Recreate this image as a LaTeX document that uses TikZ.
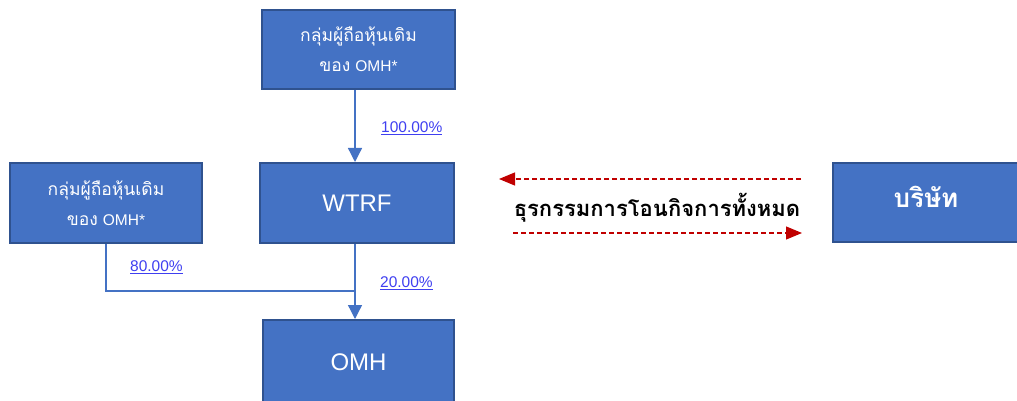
\documentclass[tikz,border=0pt]{standalone}
\usepackage{fontspec}
\setmainfont{Liberation Sans}
\newfontfamily\thai[Script=Thai]{Loma}
\usetikzlibrary{arrows.meta}
\definecolor{boxfill}{HTML}{4472C4}
\definecolor{boxline}{HTML}{2F528F}
\definecolor{linkblue}{HTML}{3F3FF0}
\definecolor{darkred}{HTML}{C00000}
\tikzset{
  entity/.style={draw=boxline, line width=2pt, fill=boxfill, text=white, inner sep=0pt, align=center},
  holder/.style={entity, font=\fontsize{17.5}{30}\selectfont},
  conn/.style={draw=boxfill, line width=1.3pt},
  arr/.style={conn, -{Triangle[length=14pt,width=14pt]}},
  pct/.style={text=linkblue, font=\fontsize{15.5}{18}\selectfont, inner sep=0pt, anchor=west},
  flow/.style={draw=darkred, line width=1.2pt, dash pattern=on 5pt off 3pt},
  flowtip/.style={-{Triangle[length=16pt,width=13pt,fill=darkred]}},
}
\begin{document}
\begin{tikzpicture}[x=1pt,y=-1pt]
\useasboundingbox (0,0) rectangle (1017,401);
% boxes
\node[holder, minimum width=193pt, minimum height=79pt] (top) at (358.5,49.5)
  {\thai กลุ่มผู้ถือหุ้นเดิม\\ {\thai ของ} {\fontsize{15.5}{30}\selectfont OMH*}};
\node[holder, minimum width=192pt, minimum height=80pt] (left) at (106,203)
  {\thai กลุ่มผู้ถือหุ้นเดิม\\ {\thai ของ} {\fontsize{15.5}{30}\selectfont OMH*}};
\node[entity, minimum width=194pt, minimum height=80pt, font=\fontsize{24}{26}\selectfont] (wtrf) at (357,203) {WTRF};
\node[entity, minimum width=191pt, minimum height=84pt, font=\fontsize{24}{26}\selectfont] (omh) at (358.5,362) {OMH};
\node[entity, minimum width=200pt, minimum height=79pt, anchor=west] (co) at (832,202.5) {};
\node[text=white, font=\fontsize{26}{28}\selectfont\bfseries\thai] (cotext) at (926,197) {บริษัท};
% connectors
\draw[arr] (top.south -| 355,0) -- (wtrf.north -| 355,0);
\coordinate (join) at (355,291);
\draw[conn] (left.south) |- (join);
\draw[arr] (wtrf.south -| 355,0) -- (omh.north -| 355,0);
% labels
\node[pct] (p100) at (381,128) {\underline{100.00\%}};
\node[pct] (p80) at (130,267) {\underline{80.00\%}};
\node[pct] (p20) at (380,283) {\underline{20.00\%}};
% transfer
\coordinate (a1) at (801,179);
\coordinate (a2) at (499,179);
\coordinate (b1) at (513,233);
\coordinate (b2) at (802,233);
\draw[flow, flowtip] (a1) -- (a2);
\draw[flow, flowtip] (b1) -- (b2);
\node[font=\fontsize{22}{24}\selectfont\bfseries\thai] (tx) at (657,208) {ธุรกรรมการโอนกิจการทั้งหมด};
\end{tikzpicture}
\end{document}
